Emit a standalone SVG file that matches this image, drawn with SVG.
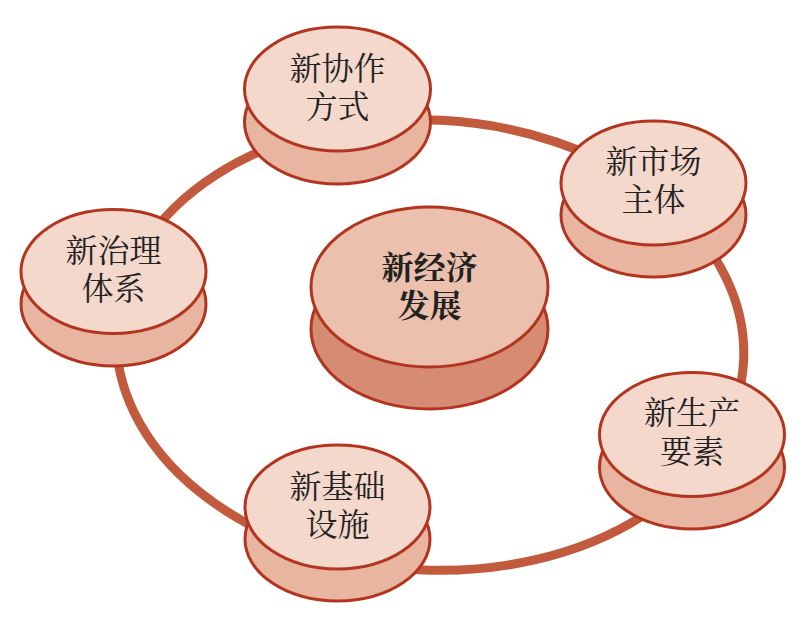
<svg xmlns="http://www.w3.org/2000/svg" width="805" height="623" viewBox="0 0 805 623">
<style>
.ring{fill:none;stroke:#c25b3d;stroke-width:9}
.top{fill:#f4d8cc;stroke:#b3341f;stroke-width:3}
.bot{fill:#e7b5a0;stroke:#b3341f;stroke-width:3}
.ctop{fill:#ebc1ad;stroke:#b3341f;stroke-width:3}
.cbot{fill:#d68c72;stroke:#b3341f;stroke-width:3}
text{font-family:"Noto Serif CJK SC","Noto Sans CJK SC",serif;font-size:32px;fill:#222;text-anchor:middle}
.b{font-weight:bold}
</style>
<rect width="805" height="623" fill="#fff"/>
<g id="connectors">
<ellipse class="ring" cx="430" cy="345" rx="314" ry="225" transform="rotate(3 430 345)"/>
</g>
<g id="n-xiezuo">
<ellipse class="bot" cx="337.5" cy="122" rx="93" ry="62"/>
<ellipse class="top" cx="337.5" cy="89" rx="93" ry="62"/>
<text x="337.5" y="80">新协作<tspan x="337.5" dy="38">方式</tspan></text>
</g>
<g id="n-shichang">
<ellipse class="bot" cx="653.5" cy="215" rx="92.5" ry="62"/>
<ellipse class="top" cx="653.5" cy="183" rx="92.5" ry="62"/>
<text x="653.5" y="173">新市场<tspan x="653.5" dy="38">主体</tspan></text>
</g>
<g id="n-zhili">
<ellipse class="bot" cx="113.5" cy="304" rx="92.5" ry="62"/>
<ellipse class="top" cx="113.5" cy="271.5" rx="92.5" ry="62"/>
<text x="113.5" y="262">新治理<tspan x="113.5" dy="38">体系</tspan></text>
</g>
<g id="n-shengchan">
<ellipse class="bot" cx="692" cy="467" rx="92.5" ry="62"/>
<ellipse class="top" cx="692" cy="434.5" rx="92.5" ry="62"/>
<text x="692" y="424">新生产<tspan x="692" dy="39">要素</tspan></text>
</g>
<g id="n-jichu">
<ellipse class="bot" cx="337.5" cy="539" rx="92.5" ry="62"/>
<ellipse class="top" cx="337.5" cy="507" rx="92.5" ry="62"/>
<text x="337.5" y="498">新基础<tspan x="337.5" dy="38">设施</tspan></text>
</g>
<g id="n-center">
<ellipse class="cbot" cx="429.5" cy="329" rx="118.5" ry="80"/>
<ellipse class="ctop" cx="429.5" cy="287" rx="118.5" ry="80"/>
<text class="b" x="429.5" y="279">新经济<tspan x="429.5" dy="38">发展</tspan></text>
</g>
</svg>
